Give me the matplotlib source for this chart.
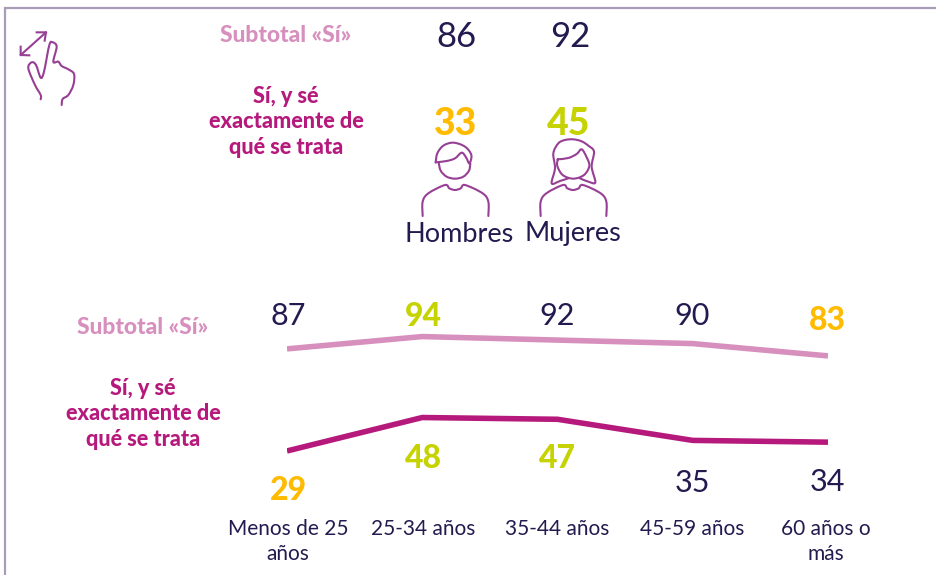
import matplotlib
matplotlib.use('Agg')
import matplotlib.pyplot as plt
from matplotlib.path import Path
from matplotlib.patches import PathPatch

plt.rcParams['font.family'] = ['Lato', 'DejaVu Sans']

#data
gender_labels = ['Hombres', 'Mujeres']
gender_subtotal = [86, 92]
gender_exact = [33, 45]
age_labels = ['Menos de 25\naños', '25-34 años', '35-44 años', '45-59 años', '60 años o\nmás']
age_subtotal = [87, 94, 92, 90, 83]
age_exact = [29, 48, 47, 35, 34]
age_subtotal_colors = ['navy', 'green', 'navy', 'navy', 'yellow']
age_exact_colors = ['yellow', 'green', 'green', 'navy', 'navy']
gender_exact_colors = ['yellow', 'green']

#colors
navy = '#241a4f'
pal = {'navy': navy, 'green': '#c6d300', 'yellow': '#ffbb00'}
light = '#d78fbd'
dark = '#b6197c'
icon = '#973f94'
border = '#ab9cb5'


def smooth(pts):
    #catmull-rom through the points
    verts = [pts[0]]
    codes = [Path.MOVETO]
    for i in range(len(pts) - 1):
        p0 = pts[max(i - 1, 0)]
        p1 = pts[i]
        p2 = pts[i + 1]
        p3 = pts[min(i + 2, len(pts) - 1)]
        c1 = (p1[0] + (p2[0] - p0[0]) / 6, p1[1] + (p2[1] - p0[1]) / 6)
        c2 = (p2[0] - (p3[0] - p1[0]) / 6, p2[1] - (p3[1] - p1[1]) / 6)
        verts += [c1, c2, p2]
        codes += [Path.CURVE4] * 3
    return Path(verts, codes)


def zoomed(pts, ox, oy):
    return [(ox + a / 3, oy + b / 3) for a, b in pts]


def stroke(ax, pts, lw=1.5, fill=False):
    ax.add_patch(PathPatch(smooth(pts), fill=fill, fc='white', ec=icon, lw=lw, capstyle='round'))


fig = plt.figure(figsize=(9.37, 5.75), dpi=100)

#page axes in pixels, used for the frame, icons and side labels
page = fig.add_axes([0, 0, 1, 1])
page.set_xlim(0, 937)
page.set_ylim(575, 0)
page.axis('off')
page.plot([5, 5, 937], [575, 8, 8], color=border, lw=1.6, solid_joinstyle='miter')

#hand icon
stroke(page, zoomed([(122, 298), (122, 285), (105, 255), (85, 205), (95, 187), (108, 195),
                     (122, 233), (132, 215), (148, 135), (158, 127), (170, 140), (160, 185),
                     (175, 185), (185, 198), (205, 208), (222, 222), (220, 255), (205, 285),
                     (188, 297), (185, 315)], 0, 0))
for seg in ([(62, 165), (138, 97)], [(110, 97), (138, 97), (134, 122)], [(62, 140), (62, 165), (88, 166)]):
    xs, ys = zip(*zoomed(seg, 0, 0))
    page.plot(xs, ys, color=icon, lw=1.5)

#man icon
stroke(page, zoomed([(116, 187), (122, 212), (140, 230), (165, 236), (190, 230), (207, 212), (211, 190)], 400, 100))
stroke(page, zoomed([(107, 187), (112, 160), (130, 137), (160, 128), (195, 140), (214, 165), (208, 190),
                     (198, 172), (185, 158), (165, 175), (140, 183), (107, 187)], 400, 100))
shoulders = [(68, 348), (68, 305), (85, 280), (135, 255), (148, 265), (165, 270), (182, 265), (195, 255), (248, 280), (265, 305), (265, 348)]
stroke(page, zoomed(shoulders, 400, 100))

#woman icon
stroke(page, zoomed([(505, 235), (480, 243), (455, 250), (465, 205), (460, 160), (475, 130), (495, 120), (520, 118),
                     (545, 124), (565, 137), (582, 155), (575, 200), (586, 247), (565, 245), (540, 235)], 400, 100))
stroke(page, zoomed([(473, 178), (472, 198), (488, 225), (520, 236), (552, 225), (568, 198), (560, 172),
                     (545, 148), (530, 162), (505, 174), (473, 178)], 400, 100))
stroke(page, [(a + 354 / 3, b) for a, b in zoomed(shoulders, 400, 100)])

#side labels
for y_sub, y_txt, x in [(36, 122, 286), (328, 414, 143)]:
    page.text(x, y_sub, 'Subtotal «Sí»', color=light, fontsize=16.4, fontweight=900, ha='center', va='center')
    page.text(x, y_txt, 'Sí, y sé\nexactamente de\nqué se trata', color=dark, fontsize=15.6, fontweight=900,
              ha='center', va='center', linespacing=1.28)

#gender block
for i, lab in enumerate(gender_labels):
    page.text([456, 570][i], 37, str(gender_subtotal[i]), color=navy, fontsize=25, ha='center', va='center')
    page.text([456, 569][i], 124, str(gender_exact[i]), color=pal[gender_exact_colors[i]], fontsize=27,
              fontweight=900, ha='center', va='center')
    page.text([459, 573][i], 234, lab, color=navy, fontsize=19.5, ha='center', va='center')

#age lines, axes placed so the value scale matches the picture
ax = fig.add_axes([287 / 937, (575 - 502) / 575, (828 - 287) / 937, 176 / 575])
ax.set_xlim(0, 4)
ax.set_ylim(0, 100)
ax.axis('off')
xs = list(range(len(age_labels)))
ax.plot(xs, age_subtotal, color=light, lw=4, solid_capstyle='butt')
ax.plot(xs, age_exact, color=dark, lw=4, solid_capstyle='butt')

sub_y = [316, 316, 316, 316, 321]
exact_y = [491, 458, 459, 483, 482]
for i, lab in enumerate(age_labels):
    x = [288, 423, 557, 692, 827][i]
    for val, col, y in [(age_subtotal[i], age_subtotal_colors[i], sub_y[i]), (age_exact[i], age_exact_colors[i], exact_y[i])]:
        bold = col != 'navy'
        page.text(x, y, str(val), color=pal[col], fontsize=23 if bold else 22,
                  fontweight=900 if bold else 'normal', ha='center', va='center')
    page.text([288, 423, 557, 692, 826][i], 519, lab, color=navy, fontsize=15, ha='center', va='top', linespacing=1.3)

#export
plt.savefig('out.png', dpi=100)
